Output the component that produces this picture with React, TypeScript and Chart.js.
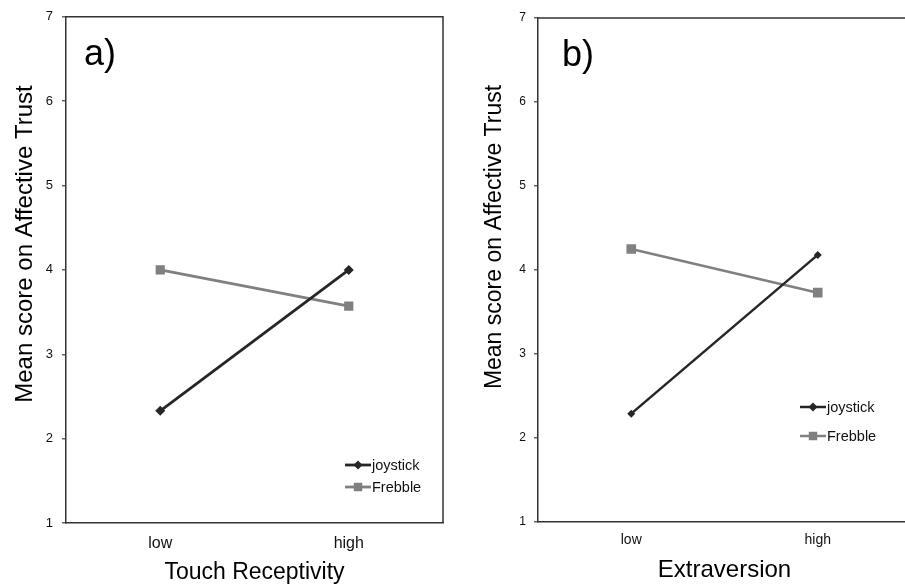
import React, { useEffect, useRef } from "react";
import { Chart, registerables } from "chart.js";

Chart.register(...registerables);

const categories = ["low", "high"];
const yTicks = [1, 2, 3, 4, 5, 6, 7];

const joystickA = [2.33, 4.0];
const frebbleA = [4.0, 3.57];
const joystickB = [2.29, 4.18];
const frebbleB = [4.25, 3.73];

const seriesNames = ["joystick", "Frebble"];
const yTitle = "Mean score on Affective Trust";
const xTitleA = "Touch Receptivity";
const xTitleB = "Extraversion";

const FONT = "'Liberation Sans', Arial, sans-serif";
const DARK = "#262626";
const GRAY = "#808080";

type PanelCfg = {
  label: string;
  xTitle: string;
  joystick: number[];
  frebble: number[];
  width: number;
  area: { left: number; right: number; top: number; bottom: number };
  tickFont: number;
  xTickFont: number;
  xTickPad: number;
  yTickPad: number;
  yTitleX: number;
  yTitleY: number;
  yTitleSize: number;
  xTitleY: number;
  xTitleSize: number;
  labelX: number;
  labelY: number;
  legendX: number;
  legendY: number[];
  lineWidth: number;
  diamondR: number;
  squareR: number;
};

function drawMarker(ctx: CanvasRenderingContext2D, kind: string, x: number, y: number, r: number, color: string) {
  ctx.save();
  ctx.fillStyle = color;
  ctx.beginPath();
  if (kind === "diamond") {
    ctx.moveTo(x, y - r);
    ctx.lineTo(x + r, y);
    ctx.lineTo(x, y + r);
    ctx.lineTo(x - r, y);
    ctx.closePath();
  } else {
    const h = r * Math.SQRT1_2;
    ctx.rect(x - h, y - h, 2 * h, 2 * h);
  }
  ctx.fill();
  ctx.restore();
}

function makeChart(canvas: HTMLCanvasElement, p: PanelCfg) {
  const decor = {
    id: "decor",
    afterDraw(chart: any) {
      const ctx: CanvasRenderingContext2D = chart.ctx;
      const ca = chart.chartArea;
      ctx.save();
      ctx.strokeStyle = "#333";
      ctx.lineWidth = 1.5;
      ctx.beginPath();
      ctx.moveTo(ca.left, ca.top);
      ctx.lineTo(ca.right, ca.top);
      ctx.lineTo(ca.right, ca.bottom);
      ctx.stroke();
      ctx.fillStyle = "#000";
      ctx.font = `36px ${FONT}`;
      ctx.textAlign = "left";
      ctx.textBaseline = "alphabetic";
      ctx.fillText(p.label, p.labelX, p.labelY);
      ctx.font = `${p.xTitleSize}px ${FONT}`;
      ctx.textAlign = "center";
      ctx.fillText(p.xTitle, (ca.left + ca.right) / 2, p.xTitleY);
      ctx.save();
      ctx.translate(p.yTitleX, p.yTitleY);
      ctx.rotate(-Math.PI / 2);
      ctx.font = `${p.yTitleSize}px ${FONT}`;
      ctx.textAlign = "center";
      ctx.textBaseline = "middle";
      ctx.fillText(yTitle, 0, 0);
      ctx.restore();
      const styles = [
        { color: DARK, kind: "diamond", r: 4.5 },
        { color: GRAY, kind: "square", r: 6 },
      ];
      seriesNames.forEach((name, i) => {
        const y = p.legendY[i];
        const s = styles[i];
        ctx.strokeStyle = s.color;
        ctx.lineWidth = p.lineWidth;
        ctx.beginPath();
        ctx.moveTo(p.legendX, y);
        ctx.lineTo(p.legendX + 26, y);
        ctx.stroke();
        drawMarker(ctx, s.kind, p.legendX + 13, y, s.r, s.color);
        ctx.fillStyle = "#111";
        ctx.font = `14.5px ${FONT}`;
        ctx.textAlign = "left";
        ctx.textBaseline = "middle";
        ctx.fillText(name, p.legendX + 27, y + 1);
      });
      ctx.restore();
    },
  };

  return new Chart(canvas, {
    type: "line",
    data: {
      labels: categories,
      datasets: [
        {
          label: seriesNames[0],
          data: p.joystick,
          borderColor: DARK,
          backgroundColor: DARK,
          borderWidth: p.lineWidth,
          pointStyle: "rectRot",
          pointRadius: p.diamondR,
          pointBorderWidth: 0,
        },
        {
          label: seriesNames[1],
          data: p.frebble,
          borderColor: GRAY,
          backgroundColor: GRAY,
          borderWidth: p.lineWidth,
          pointStyle: "rect",
          pointRadius: p.squareR,
          pointBorderWidth: 0,
        },
      ],
    },
    options: {
      responsive: false,
      animation: false,
      layout: {
        padding: { left: 0, top: p.area.top, right: p.width - p.area.right, bottom: 0 },
      },
      plugins: { legend: { display: false }, tooltip: { enabled: false } },
      scales: {
        x: {
          type: "category",
          offset: true,
          grid: { display: false, drawTicks: false },
          border: { display: true, color: "#333", width: 1.5 },
          ticks: { color: "#111", font: { family: FONT, size: p.xTickFont }, padding: p.xTickPad },
          afterFit: (s: any) => {
            s.height = 584 - p.area.bottom;
          },
        },
        y: {
          min: 1,
          max: 7,
          afterBuildTicks: (s: any) => {
            s.ticks = yTicks.map((v) => ({ value: v }));
          },
          grid: { display: true, drawOnChartArea: false, drawTicks: true, tickLength: 4, color: "#666", lineWidth: 1.5 },
          border: { display: true, color: "#333", width: 1.5 },
          ticks: { color: "#111", font: { family: FONT, size: p.tickFont }, padding: p.yTickPad },
          afterFit: (s: any) => {
            s.width = p.area.left;
          },
        },
      },
    },
    plugins: [decor],
  } as any);
}

const panelA: PanelCfg = {
  label: "a)",
  xTitle: xTitleA,
  joystick: joystickA,
  frebble: frebbleA,
  width: 452,
  area: { left: 66, right: 443, top: 15, bottom: 523 },
  tickFont: 13,
  xTickFont: 16,
  xTickPad: 11,
  yTickPad: 9,
  yTitleX: 25,
  yTitleY: 244,
  yTitleSize: 24,
  xTitleY: 579,
  xTitleSize: 23,
  labelX: 84,
  labelY: 65,
  legendX: 345,
  legendY: [465, 487],
  lineWidth: 2.8,
  diamondR: 5,
  squareR: 6.5,
};

const panelB: PanelCfg = {
  label: "b)",
  xTitle: xTitleB,
  joystick: joystickB,
  frebble: frebbleB,
  width: 470,
  area: { left: 86, right: 459, top: 18, bottom: 522 },
  tickFont: 12,
  xTickFont: 14,
  xTickPad: 10,
  yTickPad: 8,
  yTitleX: 43,
  yTitleY: 237,
  yTitleSize: 23,
  xTitleY: 577,
  xTitleSize: 24,
  labelX: 110,
  labelY: 66,
  legendX: 348,
  legendY: [407, 436],
  lineWidth: 2.5,
  diamondR: 4,
  squareR: 6.8,
};

function Panel({ cfg, left }: { cfg: PanelCfg; left: number }) {
  const ref = useRef<HTMLCanvasElement | null>(null);
  useEffect(() => {
    if (!ref.current) return;
    const c = makeChart(ref.current, cfg);
    return () => c.destroy();
  }, []);
  return (
    <canvas
      ref={ref}
      width={cfg.width}
      height={584}
      style={{ position: "absolute", left, top: 0, width: cfg.width, height: 584 }}
    />
  );
}

export default function App() {
  return (
    <div
      style={{
        position: "fixed",
        left: 0,
        top: 0,
        width: 905,
        height: 584,
        overflow: "hidden",
        background: "#fff",
      }}
    >
      <Panel cfg={panelA} left={0} />
      <Panel cfg={panelB} left={452} />
    </div>
  );
}
